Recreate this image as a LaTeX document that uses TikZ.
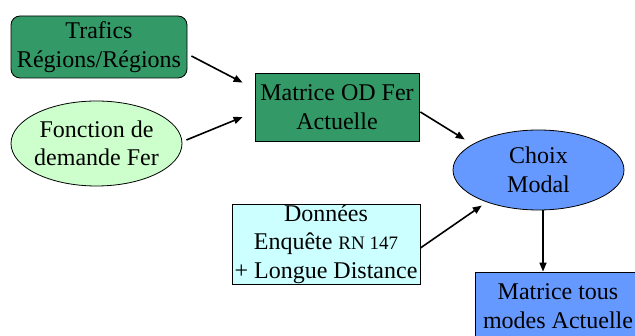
\documentclass[tikz,border=0pt]{standalone}
\usepackage{fontspec}
\setmainfont{Liberation Serif}
\usetikzlibrary{shapes.geometric,arrows.meta}
\definecolor{darkgreen}{HTML}{339966}
\definecolor{palegreen}{HTML}{CCFFCC}
\definecolor{paleblue}{HTML}{6699FF}
\definecolor{palecyan}{HTML}{CCFFFF}
\tikzset{
  x=1pt, y=1pt,
  box/.style={draw=black, line width=0.8pt, align=center, font=\fontsize{24}{28.5}\selectfont, inner sep=0pt},
  oval/.style={box, ellipse},
  arr/.style={line width=1.6pt, -{Triangle[length=9pt,width=7pt]}}
}
\begin{document}
\begin{tikzpicture}
\useasboundingbox (0,0) rectangle (635,-336);
% input nodes
\node[box, fill=darkgreen, rounded corners=9pt, minimum width=176pt, minimum height=62pt] (traf) at (99,-47) {Trafics\\Régions/Régions};
\node[oval, fill=palegreen, inner xsep=-3.5pt, minimum width=171pt, minimum height=85pt] (fonc) at (96.5,-143.5) {Fonction de\\demande Fer};
\node[box, fill=darkgreen, minimum width=164pt, minimum height=68pt] (matod) at (337,-107) {Matrice OD Fer\\Actuelle};
\node[oval, fill=paleblue, minimum width=171pt, minimum height=80pt] (choix) at (538.5,-170) {Choix\\Modal};
\node[box, fill=palecyan, minimum width=188pt, minimum height=80pt] (donn) at (326,-244) {Données\\Enquête {\fontsize{19}{28.5}\selectfont RN 147}\\+ Longue Distance};
\node[box, fill=paleblue, minimum width=166pt, minimum height=68pt] (mtous) at (558,-306) {Matrice tous\\modes Actuelle};
% connectors
\draw[arr] ([shift={(4,-9)}]traf.east) -- ([shift={(-12,-10)}]matod.north west);
\draw[arr] ([shift={(4,3.5)}]fonc.east) -- ([shift={(-12,-10)}]matod.west);
\draw[arr] ([shift={(1,-5)}]matod.east) -- ([shift={(-13,2)}]choix.north west);
\draw[arr] ([shift={(0,-4)}]donn.east) -- ([shift={(4,-7)}]choix.south west);
\draw[arr] ([xshift=4.5pt]choix.south) -- ([xshift=-15pt]mtous.north);
\end{tikzpicture}
\end{document}
